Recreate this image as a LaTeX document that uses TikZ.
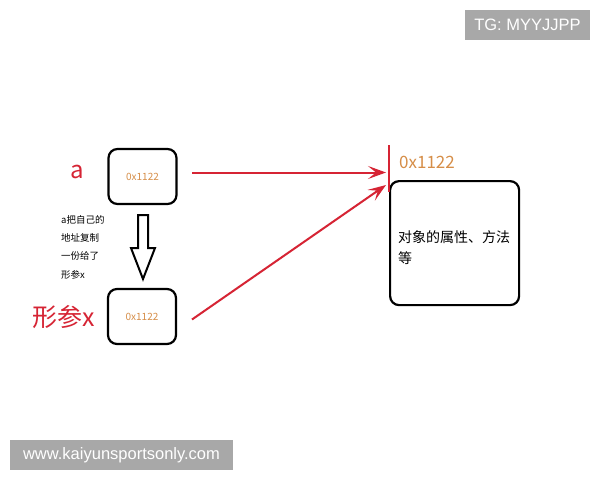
\documentclass[tikz,border=0pt]{standalone}
\usepackage{fontspec}
\setmainfont{Noto Sans CJK SC}
\newfontfamily\wmfont{Liberation Sans}
\usetikzlibrary{arrows.meta}
\definecolor{penred}{RGB}{214,36,52}
\definecolor{addr}{RGB}{214,142,72}
\definecolor{wmgray}{RGB}{168,168,168}
\tikzstyle{memcell}=[draw, line width=2.2pt, rounded corners=9pt, minimum width=68pt, minimum height=55pt, inner sep=0pt]
\tikzstyle{ref>}=[draw=penred, line width=2pt, -{Stealth[open, length=18pt, width=13pt, inset=8pt]}]
\tikzstyle{wmark}=[fill=wmgray, text=white, font=\wmfont\fontsize{16.5}{18}\selectfont, inner sep=0pt]

\begin{document}
\begin{tikzpicture}[x=1pt, y=-1pt]
\useasboundingbox (0,0) rectangle (600,480);
\fill[white] (0,0) rectangle (600,480);
% stack cells
\node[memcell] (a) at (142.5,176.5) {\textcolor{addr}{\fontsize{10}{12}\selectfont 0x1122}};
\node[memcell] (x) at (142,316.5) {\textcolor{addr}{\fontsize{10}{12}\selectfont 0x1122}};
\node[text=penred, font=\fontsize{24}{26}\selectfont] (la) at (77,172) {a};
\node[text=penred, font=\fontsize{25}{28}\selectfont] (lx) at (64,317) {形参x};
% copy arrow
\draw[line width=2pt, line join=miter] (138,215) -- (148,215) -- (148,248) -- (155,248) -- (143,279)
  -- (131,248) -- (138,248) -- cycle;
\node[anchor=north west, align=left, inner sep=0pt, font=\fontsize{9.5}{18.3}\selectfont] (note) at (61,215)
  {a把自己的\\地址复制\\一份给了\\形参x};
% heap object
\node[memcell, minimum width=129pt, minimum height=124pt, anchor=north west] (obj) at (389,180) {};
\node[anchor=west, align=left, inner sep=0pt, font=\fontsize{14}{21}\selectfont] (props) at (398,247.5)
  {对象的属性、方法\\等};
\coordinate (top) at (388.5,145);
\coordinate (bot) at (388.5,192);
\draw[penred, line width=2pt] (top) -- (bot);
\node[text=addr, anchor=west, inner sep=0pt, font=\fontsize{17}{20}\selectfont] (adr) at (399,162) {0x1122};
% references
\coordinate (tipa) at (386,172.5);
\coordinate (tipx) at (386,185);
\draw[ref>] (192,172.5) -- (tipa);
\draw[ref>] (192,319.5) -- (tipx);
% watermarks
\node[wmark, minimum width=125pt, minimum height=30pt] (tg) at (527.5,25) {TG: MYYJJPP};
\node[wmark, minimum width=223pt, minimum height=30pt] (www) at (121.5,455) {www.kaiyunsportsonly.com};
\end{tikzpicture}
\end{document}
